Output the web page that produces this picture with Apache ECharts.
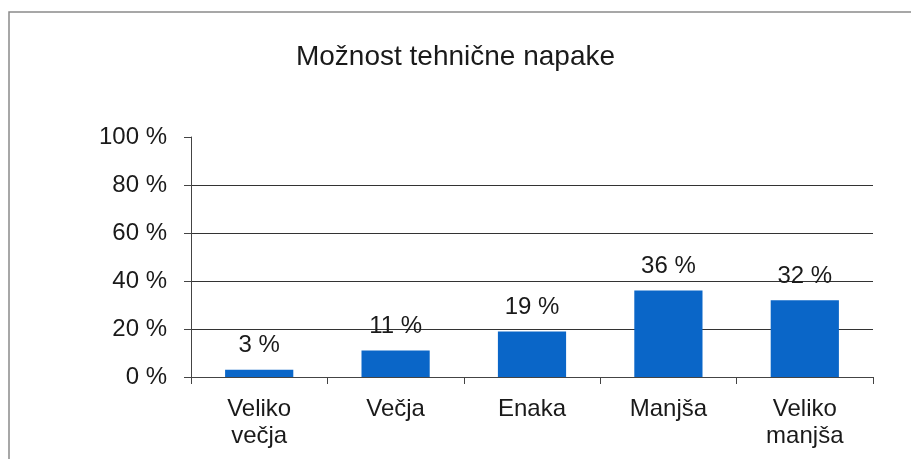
<!DOCTYPE html>
<html><head><meta charset="utf-8">
<script src="https://cdn.jsdelivr.net/npm/echarts@6/dist/echarts.min.js"></script>
<style>html,body{margin:0;padding:0;background:#fff}#c{width:911px;height:459px}</style>
</head><body><div id="c"></div>
<script>
const titleText = 'Možnost tehnične napake';
const categories = ['Veliko\nvečja', 'Večja', 'Enaka', 'Manjša', 'Veliko\nmanjša'];
const values = [3, 11, 19, 36, 32];
const yTicks = [0, 20, 40, 60, 80, 100];

const chart = echarts.init(document.getElementById('c'), null, {renderer: 'canvas'});
const font = 'Liberation Sans, Arial, sans-serif';
chart.setOption({
  backgroundColor: '#fff',
  animation: false,
  title: {
    text: titleText, left: 'center', top: 38,
    textStyle: {fontFamily: font, fontSize: 28, fontWeight: 'normal', color: '#1a1a1a'}
  },
  graphic: [{
    type: 'rect', shape: {x: 9, y: 12, width: 1000, height: 600},
    style: {fill: 'none', stroke: '#8a8a8a', lineWidth: 1.5}, silent: true
  }],
  grid: {left: 191, right: 38, top: 137, bottom: 82, containLabel: false},
  xAxis: {
    type: 'category', data: categories,
    axisLine: {lineStyle: {color: '#444', width: 1}},
    axisTick: {show: true, length: 7, inside: false, lineStyle: {color: '#444'}},
    axisLabel: {fontFamily: font, fontSize: 24, color: '#1a1a1a', margin: 19, lineHeight: 27}
  },
  yAxis: {
    type: 'value', min: yTicks[0], max: yTicks[yTicks.length - 1], interval: 20,
    axisLine: {show: true, lineStyle: {color: '#444', width: 1}},
    axisTick: {show: true, length: 7, lineStyle: {color: '#444'}},
    axisLabel: {fontFamily: font, fontSize: 24, color: '#1a1a1a', margin: 24, formatter: '{value} %'},
    splitLine: {show: true, lineStyle: {color: '#333', width: 1}, showMaxLine: false}
  },
  series: [{
    type: 'bar', data: values, barWidth: '50%',
    itemStyle: {color: '#0a66c8'},
    label: {show: true, position: 'top', distance: 12, formatter: '{c} %',
      fontFamily: font, fontSize: 24, color: '#1a1a1a'}
  }]
});
</script></body></html>
